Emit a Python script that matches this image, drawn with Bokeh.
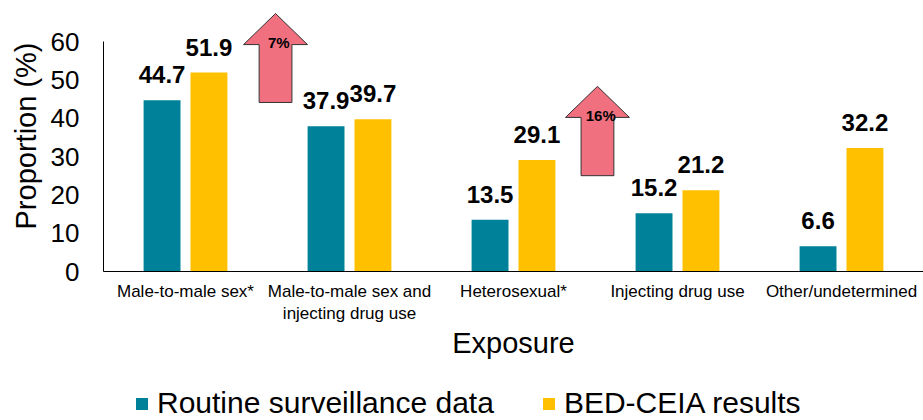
from bokeh.plotting import figure
from bokeh.layouts import column
from bokeh.models import Range1d, FixedTicker, Legend, LegendItem, ColumnDataSource
from bokeh.core.properties import value
from bokeh.embed import file_html
from bokeh.resources import INLINE

categories = ["Male-to-male sex*", "Male-to-male sex and\ninjecting drug use",
              "Heterosexual*", "Injecting drug use", "Other/undetermined"]
routine = [44.7, 37.9, 13.5, 15.2, 6.6]
bed_ceia = [51.9, 39.7, 29.1, 21.2, 32.2]
series_names = ["Routine surveillance data", "BED-CEIA results"]
y_ticks = [0, 10, 20, 30, 40, 50, 60]
arrow_labels = ["7%", "16%"]

TEAL = "#00819A"
GOLD = "#FFC000"
PINK = "#F07080"
FONT = "Liberation Sans"

n = len(categories)
centers = [i + 0.5 for i in range(n)]
off = 0.143
bw = 0.225

p = figure(frame_width=820, frame_height=271, output_backend="svg", toolbar_location=None,
           x_range=Range1d(0, n), y_range=Range1d(0, 70.7),
           min_border_left=103, min_border_right=0, min_border_top=0, min_border_bottom=94)
p.outline_line_color = None
p.xgrid.visible = False
p.ygrid.visible = False
p.background_fill_color = "white"
p.border_fill_color = "white"

src = ColumnDataSource(dict(
    xa=[c - off for c in centers], xb=[c + off for c in centers],
    ra=routine, rb=bed_ceia,
    ta=[f"{v:.1f}" for v in routine], tb=[f"{v:.1f}" for v in bed_ceia]))

p.vbar(x="xa", top="ra", width=bw, source=src, fill_color=TEAL, line_color=None)
p.vbar(x="xb", top="rb", width=bw, source=src, fill_color=GOLD, line_color=None)

for xcol, ycol, tcol in (("xa", "ra", "ta"), ("xb", "rb", "tb")):
    p.text(x=xcol, y=ycol, text=tcol, source=src, text_align="center",
           text_baseline="bottom", y_offset=-17, text_font=value(FONT),
           text_font_size="24px", text_font_style="bold", text_color="black")

# arrows (annotations): center x, tip y, head-base y, bottom y
arrows = [(1.049, 67.3, 59.2, 44.1), (3.012, 48.3, 40.2, 25.0)]
hw, sw = 0.195, 0.1
xs, ys = [], []
for cx, tip, hb, bot in arrows:
    xs.append([cx, cx + hw, cx + sw, cx + sw, cx - sw, cx - sw, cx - hw])
    ys.append([tip, hb, hb, bot, bot, hb, hb])
p.patches(xs, ys, fill_color=PINK, line_color="#333333", line_width=1)
p.text(x=[a[0] + 0.02 for a in arrows], y=[a[2] + 0.5 for a in arrows], text=arrow_labels,
       text_align="center", text_baseline="middle", text_font=value(FONT),
       text_font_size="15px", text_font_style="bold", text_color="black")

# axes
p.yaxis.ticker = FixedTicker(ticks=y_ticks)
p.yaxis.bounds = (0, 60)
p.yaxis.major_tick_line_color = None
p.yaxis.minor_tick_line_color = None
p.yaxis.major_tick_out = 0
p.yaxis.major_label_standoff = 24
p.yaxis.major_label_text_font = FONT
p.yaxis.major_label_text_font_size = "26px"
p.yaxis.major_label_text_color = "black"
p.yaxis.axis_line_color = "black"
p.yaxis.axis_label = "Proportion (%)"
p.yaxis.axis_label_text_font = FONT
p.yaxis.axis_label_text_font_size = "29px"
p.yaxis.axis_label_text_font_style = "normal"
p.yaxis.axis_label_text_color = "black"
p.yaxis.axis_label_standoff = 6

p.xaxis.ticker = FixedTicker(ticks=centers)
p.xaxis.major_label_overrides = {c: lab for c, lab in zip(centers, categories)}
p.xaxis.major_tick_line_color = None
p.xaxis.minor_tick_line_color = None
p.xaxis.major_tick_out = 0
p.xaxis.major_label_standoff = 10
p.xaxis.major_label_text_font = FONT
p.xaxis.major_label_text_font_size = "17px"
p.xaxis.major_label_text_color = "black"
p.xaxis.axis_line_color = "black"
p.xaxis.axis_label = "Exposure"
p.xaxis.axis_label_text_font = FONT
p.xaxis.axis_label_text_font_size = "29px"
p.xaxis.axis_label_text_font_style = "normal"
p.xaxis.axis_label_text_color = "black"
p.xaxis.axis_label_standoff = 1

# legend strip below the chart (same series, drawn outside its visible range)
pl = figure(width=923, height=55, output_backend="svg", toolbar_location=None,
            x_range=Range1d(0, n), y_range=Range1d(1000, 1001),
            min_border_left=0, min_border_right=0, min_border_top=0, min_border_bottom=0)
pl.axis.visible = False
pl.grid.visible = False
pl.outline_line_color = None
la = pl.vbar(x="xa", top="ra", width=bw, source=src, fill_color=TEAL, line_color=None)
lb = pl.vbar(x="xb", top="rb", width=bw, source=src, fill_color=GOLD, line_color=None)
legend = Legend(items=[LegendItem(label=series_names[0], renderers=[la], index=0),
                       LegendItem(label=series_names[1], renderers=[lb], index=0)],
                orientation="horizontal", location=(31, 0),
                label_text_font=FONT, label_text_font_size="30px", label_text_color="black",
                glyph_width=15, glyph_height=15, label_standoff=8, spacing=47,
                border_line_color=None, background_fill_alpha=0, padding=0, margin=0,
                label_height=30)
pl.add_layout(legend, "center")

layout = column(p, pl, spacing=0)
open("out.html", "w").write(file_html(layout, INLINE))
